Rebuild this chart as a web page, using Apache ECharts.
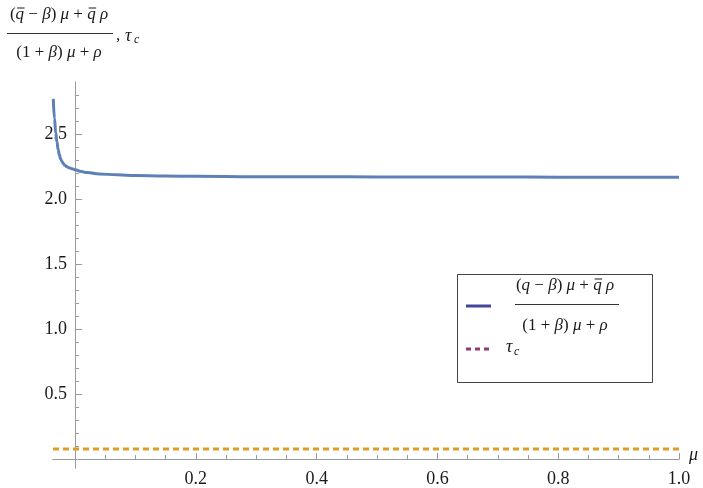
<!DOCTYPE html>
<html>
<head>
<meta charset="utf-8">
<script src="https://cdn.jsdelivr.net/npm/echarts@6/dist/echarts.min.js"></script>
<style>
html,body{margin:0;padding:0;background:#fff;}
#chart{width:703px;height:488px;}
</style>
</head>
<body>
<div id="chart"></div>
<script>
// ---- data ----
var muValues = [-0.036, -0.034, -0.032, -0.030, -0.028, -0.026, -0.024, -0.022, -0.020, -0.017, -0.014, -0.010, -0.005, 0, 0.01, 0.02, 0.04, 0.07, 0.1, 0.15, 0.2, 0.3, 0.4, 0.5, 0.6, 0.7, 0.8, 0.9, 1.0];
var ratioValues = [2.77, 2.62, 2.51, 2.44, 2.38, 2.34, 2.31, 2.29, 2.275, 2.26, 2.25, 2.24, 2.233, 2.225, 2.212, 2.203, 2.193, 2.186, 2.181, 2.177, 2.175, 2.172, 2.171, 2.17, 2.169, 2.169, 2.168, 2.168, 2.168];
var tauMu = [-0.0365, 1.0];
var tauValues = [0.077, 0.077];
var xTicks = [0.2, 0.4, 0.6, 0.8, 1.0];
var yTicks = [0.5, 1.0, 1.5, 2.0, 2.5];
var xMinorTicks = [0.05, 0.1, 0.15, 0.25, 0.3, 0.35, 0.45, 0.5, 0.55, 0.65, 0.7, 0.75, 0.85, 0.9, 0.95];
var yMinorTicks = [0.1, 0.2, 0.3, 0.4, 0.6, 0.7, 0.8, 0.9, 1.1, 1.2, 1.3, 1.4, 1.6, 1.7, 1.8, 1.9, 2.1, 2.2, 2.3, 2.4, 2.6, 2.7, 2.8];

var X_MIN = -0.0365, X_MAX = 1.0, Y_MIN = -0.069, Y_MAX = 2.9;
var SERIF = 'Liberation Serif';
var FS = 17;
var INK = '#1a1a1a';
var AX = '#9a9a9a';

function pairs(xs, ys) { return xs.map(function (x, i) { return [x, ys[i]]; }); }

// formula pieces: [text, italic, bar-over]
var numTitleSeg = [['(', 0], ['q', 1, 1], [' \u2212 ', 0], ['\u03B2', 1], [') ', 0], ['\u03BC', 1], [' + ', 0], ['q', 1, 1], [' ', 0], ['\u03C1', 1]];
var numLegendSeg = [['(', 0], ['q', 1], [' \u2212 ', 0], ['\u03B2', 1], [') ', 0], ['\u03BC', 1], [' + ', 0], ['q', 1, 1], [' ', 0], ['\u03C1', 1]];
var denSeg = [['(1 + ', 0], ['\u03B2', 1], [') ', 0], ['\u03BC', 1], [' + ', 0], ['\u03C1', 1]];

var ctx = document.createElement('canvas').getContext('2d');
function segWidth(s) {
  ctx.font = (s[1] ? 'italic ' : '') + FS + 'px "' + SERIF + '"';
  return ctx.measureText(s[0]).width;
}
// builds rich text + macron lines for a centred formula line
function formula(segs, cx, cy) {
  var total = 0;
  segs.forEach(function (s) { total += segWidth(s); });
  var x = cx - total / 2;
  var txt = '';
  var els = [];
  segs.forEach(function (s) {
    var w = segWidth(s);
    txt += '{' + (s[1] ? 'i' : 'n') + '|' + s[0] + '}';
    if (s[2]) {
      els.push({ type: 'line', z: 100, shape: { x1: x + 1.5, y1: cy - 7, x2: x + w + 0.5, y2: cy - 7 }, style: { stroke: INK, lineWidth: 1 } });
    }
    x += w;
  });
  els.push({ type: 'text', z: 100, style: { text: txt, x: cx, y: cy, rich: rich, textAlign: 'center', textVerticalAlign: 'middle', fill: INK } });
  return els;
}

var rich = {
  n: { fontFamily: SERIF, fontSize: FS, fill: INK },
  i: { fontFamily: SERIF, fontSize: FS, fontStyle: 'italic', fill: INK }
};

function ptext(txt, x, y, size, italic) {
  return { type: 'text', z: 100, style: { text: txt, x: x, y: y, fontFamily: SERIF, fontSize: size, fontStyle: italic ? 'italic' : 'normal', fill: INK, textAlign: 'left', textVerticalAlign: 'middle' } };
}
function hline(x1, x2, y, color, w, dash) {
  return { type: 'line', z: 100, shape: { x1: x1, y1: y, x2: x2, y2: y }, style: { stroke: color, lineWidth: w, lineDash: dash || null } };
}

var graphics = []
  .concat(formula(numTitleSeg, 59, 15))
  .concat([hline(7, 113, 33.5, '#333', 1)])
  .concat(formula(denSeg, 59, 53))
  .concat([
    ptext(',', 116, 36, 17, false),
    ptext('\u03C4', 125, 36, 18, true),
    ptext('c', 134, 40, 12, true),
    ptext('\u03BC', 689, 455, 18, true),
    { type: 'rect', z: 90, shape: { x: 457.5, y: 274.5, width: 195, height: 108 }, style: { fill: '#fff', stroke: '#444', lineWidth: 1 } },
    hline(466, 491, 306, '#45459E', 3),
    hline(515, 619, 304.5, '#333', 1),
    hline(466, 492, 349, '#8E3B70', 3, [5, 4]),
    ptext('\u03C4', 506, 347, 18, true),
    ptext('c', 514, 352, 12, true)
  ])
  .concat(formula(numLegendSeg, 565, 286))
  .concat(formula(denSeg, 565, 326));

var grid = { left: 53, right: 24, top: 82, bottom: 20 };
var chart = echarts.init(document.getElementById('chart'), null, { renderer: 'canvas' });
chart.setOption({
  animation: false,
  backgroundColor: '#fff',
  textStyle: { fontFamily: SERIF },
  grid: [grid, grid],
  xAxis: [{
    type: 'value', gridIndex: 0, min: X_MIN, max: X_MAX,
    axisLine: { onZero: true, lineStyle: { color: AX, width: 1 } },
    axisTick: { customValues: xTicks, inside: true, length: 6, lineStyle: { color: AX } },
    axisLabel: { customValues: xTicks, formatter: function (v) { return v.toFixed(1); }, fontFamily: SERIF, fontSize: 18, color: INK, margin: 2 },
    splitLine: { show: false }
  }, {
    type: 'value', gridIndex: 1, min: X_MIN, max: X_MAX,
    axisLine: { onZero: true, lineStyle: { color: AX, width: 1 } },
    axisTick: { customValues: xMinorTicks, inside: true, length: 4, lineStyle: { color: AX } },
    axisLabel: { show: false },
    splitLine: { show: false }
  }],
  yAxis: [{
    type: 'value', gridIndex: 0, min: Y_MIN, max: Y_MAX,
    axisLine: { onZero: true, lineStyle: { color: AX, width: 1 } },
    axisTick: { customValues: yTicks, inside: true, length: 7, lineStyle: { color: AX } },
    axisLabel: { customValues: yTicks, formatter: function (v) { return v.toFixed(1); }, fontFamily: SERIF, fontSize: 18, color: INK, margin: -14 },
    splitLine: { show: false }
  }, {
    type: 'value', gridIndex: 1, min: Y_MIN, max: Y_MAX,
    axisLine: { onZero: true, lineStyle: { color: AX, width: 1 } },
    axisTick: { customValues: yMinorTicks, inside: true, length: 4, lineStyle: { color: AX } },
    axisLabel: { show: false },
    splitLine: { show: false }
  }],
  series: [{
    type: 'line', xAxisIndex: 0, yAxisIndex: 0,
    data: pairs(muValues, ratioValues),
    showSymbol: false, smooth: true, smoothMonotone: 'x',
    lineStyle: { color: '#5E81B5', width: 3 }, z: 5
  }, {
    type: 'line', xAxisIndex: 0, yAxisIndex: 0,
    data: pairs(tauMu, tauValues),
    showSymbol: false,
    lineStyle: { color: '#E19C24', width: 3, type: [6, 4] }, z: 5
  }],
  graphic: graphics
});
</script>
</body>
</html>
